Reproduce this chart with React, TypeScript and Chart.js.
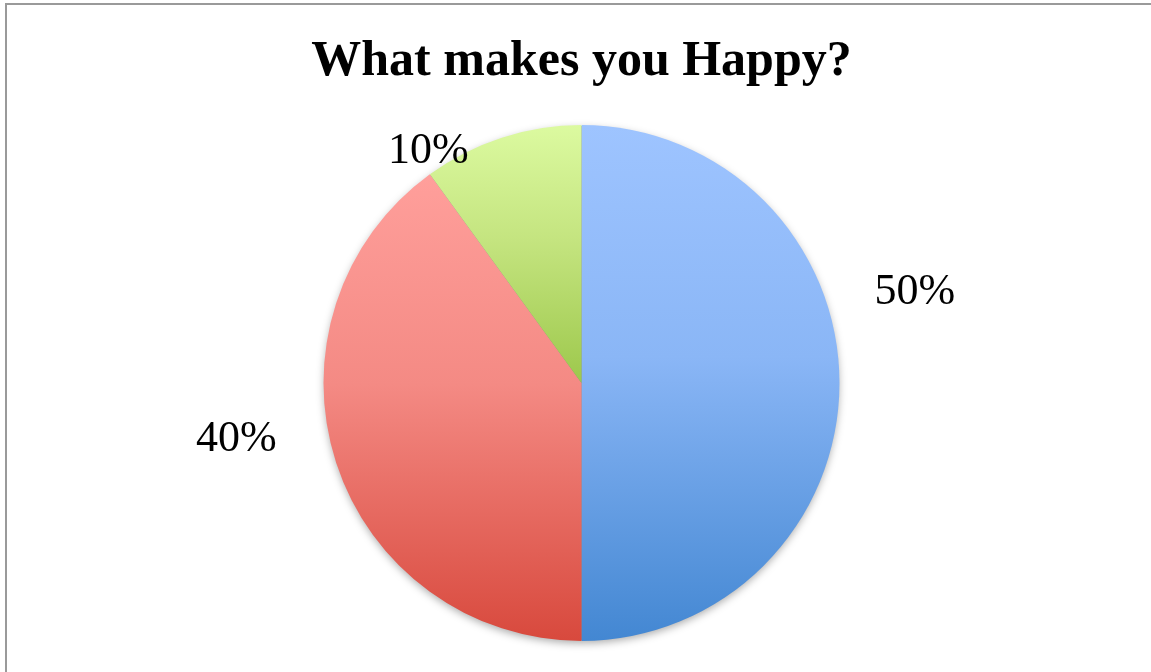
import React, { useEffect, useRef } from "react";
import { Chart, registerables } from "chart.js";

Chart.register(...registerables);

const TITLE = "What makes you Happy?";
const categories = ["A", "B", "C"];
const values = [50, 40, 10];
const valueLabels = ["50%", "40%", "10%"];

// gradient stops per slice (top -> bottom of the slice's bounding box)
const gradientStops: string[][] = [
  ["#9EC4FF", "#8AB6F6", "#4387D2"],
  ["#FF9F9B", "#F48A84", "#D8493D"],
  ["#DCFAA0", "#C4E47F", "#9DC84C"],
];
const gradientOffsets = [0, 0.45, 1];

// label placement: angle (deg, clockwise from top) and distance as a multiple of radius
const labelAngles = [74.2, 261.3, 326.9];
const labelDistances = [1.343, 1.353, 1.087];

function sliceBounds(cx: number, cy: number, r: number, start: number, end: number) {
  const pts: number[] = [cy];
  const steps = 64;
  for (let i = 0; i <= steps; i++) {
    const a = start + ((end - start) * i) / steps;
    pts.push(cy + r * Math.sin(a));
  }
  return { top: Math.min(...pts), bottom: Math.max(...pts) };
}

export default function App() {
  const ref = useRef<HTMLCanvasElement | null>(null);

  useEffect(() => {
    if (!ref.current) return;
    const total = values.reduce((a, b) => a + b, 0);

    const bg = (ctx: any) => {
      const chart = ctx.chart;
      const area = chart.chartArea;
      const i = ctx.dataIndex;
      if (!area || i === undefined) return gradientStops[i ?? 0][0];
      const cx = (area.left + area.right) / 2;
      const cy = (area.top + area.bottom) / 2;
      const r = Math.min(area.right - area.left, area.bottom - area.top) / 2;
      let start = -Math.PI / 2;
      for (let k = 0; k < i; k++) start += (values[k] / total) * Math.PI * 2;
      const end = start + (values[i] / total) * Math.PI * 2;
      const b = sliceBounds(cx, cy, r, start, end);
      const g = chart.ctx.createLinearGradient(0, b.top, 0, b.bottom);
      gradientStops[i].forEach((c, k) => g.addColorStop(gradientOffsets[k], c));
      return g;
    };

    const shadowPlugin = {
      id: "pieShadow",
      beforeDatasetsDraw(chart: any) {
        const arc = chart.getDatasetMeta(0).data[0];
        if (!arc) return;
        const c = chart.ctx;
        c.save();
        c.shadowColor = "rgba(0,0,0,0.35)";
        c.shadowBlur = 8;
        c.shadowOffsetY = 3;
        c.fillStyle = "#888";
        c.beginPath();
        c.arc(arc.x, arc.y, arc.outerRadius - 1, 0, Math.PI * 2);
        c.fill();
        c.restore();
      },
    };

    const labelPlugin = {
      id: "outsideLabels",
      afterDatasetsDraw(chart: any) {
        const meta = chart.getDatasetMeta(0);
        const c = chart.ctx;
        c.save();
        c.font = '44px "Liberation Serif", serif';
        c.fillStyle = "#000";
        c.textAlign = "center";
        c.textBaseline = "alphabetic";
        meta.data.forEach((arc: any, i: number) => {
          const th = (labelAngles[i] * Math.PI) / 180;
          const d = arc.outerRadius * labelDistances[i];
          const x = arc.x + d * Math.sin(th);
          const y = arc.y - d * Math.cos(th);
          c.fillText(valueLabels[i], x, y + 15);
        });
        c.restore();
      },
    };

    const chart = new Chart(ref.current, {
      type: "pie",
      data: {
        labels: categories,
        datasets: [
          {
            data: values,
            backgroundColor: bg as any,
            borderWidth: 0,
            hoverOffset: 0,
            offset: 0,
          },
        ],
      },
      options: {
        animation: false,
        responsive: false,
        events: [],
        layout: { padding: { top: 0, left: 12, right: 0, bottom: 31 } },
        plugins: {
          legend: { display: false },
          tooltip: { enabled: false },
          title: {
            display: true,
            text: TITLE,
            color: "#000",
            font: { family: '"Liberation Serif", serif', size: 50, weight: "bold", lineHeight: 1.2 },
            padding: { top: 32, bottom: 33 },
          },
        },
      },
      plugins: [shadowPlugin, labelPlugin],
    });
    return () => chart.destroy();
  }, []);

  return (
    <div
      style={{
        position: "fixed",
        left: 0,
        top: 0,
        width: 1151,
        height: 672,
        background: "#fff",
        overflow: "hidden",
      }}
    >
      <canvas ref={ref} width={1151} height={672} style={{ position: "absolute", left: 0, top: 0 }} />
      <div
        style={{
          position: "absolute",
          left: 5,
          top: 3,
          width: 1200,
          height: 720,
          borderLeft: "2px solid #9a9a9a",
          borderTop: "2px solid #9a9a9a",
          pointerEvents: "none",
        }}
      />
    </div>
  );
}
